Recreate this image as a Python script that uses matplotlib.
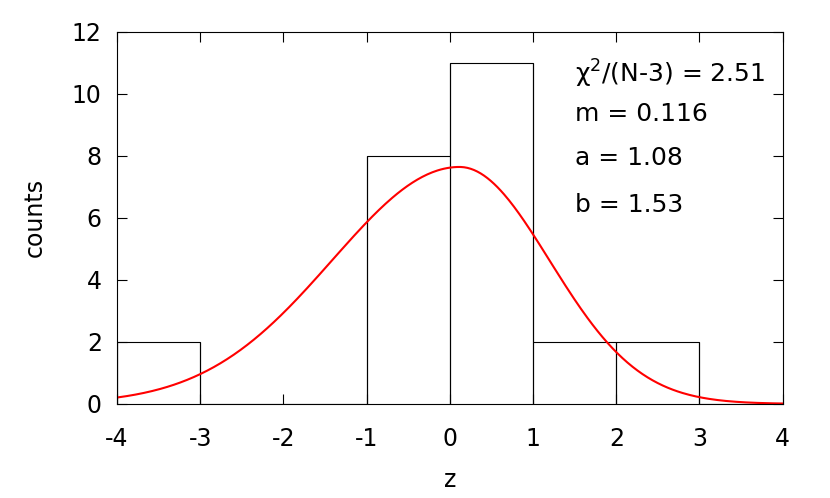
import numpy as np
import matplotlib
matplotlib.use("Agg")
import matplotlib.pyplot as plt

# histogram of z values (bin edges and counts)
binEdges = [-4, -3, -2, -1, 0, 1, 2, 3, 4]
counts = [2, 0, 0, 8, 11, 2, 2, 0]

# fit parameters shown on the plot
chi2 = 2.51
m = 0.116
a = 1.08
b = 1.53
N = sum(counts)

def fitCurve(z):
	# split gaussian: width b left of m, a right of m, normalised to N
	sig = np.where(z < m, b, a)
	return N * 2.0 / (np.sqrt(2 * np.pi) * (a + b)) * np.exp(-(z - m) ** 2 / (2 * sig ** 2))

plt.rcParams['font.family'] = ['DejaVu Sans']
plt.rcParams['axes.unicode_minus'] = False
fig = plt.figure(figsize=(8.3, 4.98), dpi=100)
ax = fig.add_axes([0.141, 0.189, 0.802, 0.747])

ax.stairs(counts, binEdges, color='black', linewidth=0.8)
for i in range(len(counts)):
	if counts[i] > 0:
		ax.vlines([binEdges[i], binEdges[i + 1]], 0, counts[i], color='black', linewidth=0.8)

zz = np.linspace(-4, 4, 400)
ax.plot(zz, fitCurve(zz), color='red', linewidth=1.5)

ax.set_xlim(-4, 4)
ax.set_ylim(0, 12)
ax.set_xticks(range(-4, 5))
ax.set_yticks(range(0, 13, 2))
ax.tick_params(direction='in', top=True, right=True, length=7, width=0.8, labelsize=17)
ax.tick_params(axis='x', pad=17)
ax.tick_params(axis='y', pad=11)
for s in ax.spines.values():
	s.set_linewidth(0.8)

ax.set_xlabel('z', fontsize=17, labelpad=12)
ax.set_ylabel('counts', fontsize=17, labelpad=18)

txt = [r'$\mathrm{\chi}^2$/(N-3) = %.2f' % chi2, 'm = %.3f' % m, 'a = %.2f' % a, 'b = %.2f' % b]
ypos = [10.66, 9.36, 7.92, 6.42]
for t, y in zip(txt, ypos):
	ax.text(1.5, y, t, fontsize=18, va='center', ha='left')

fig.savefig('out.png')
